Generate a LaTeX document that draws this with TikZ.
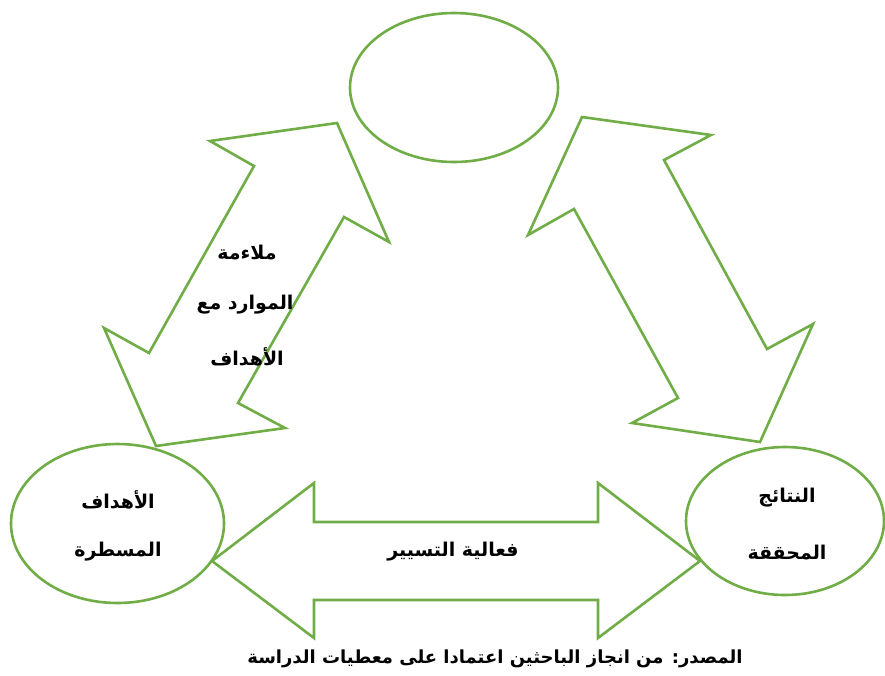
\documentclass[tikz,border=0pt]{standalone}
\usepackage{fontspec}
\TeXXeTstate=1
\newfontfamily\arabicfont[Script=Arabic]{DejaVu Sans}
\usetikzlibrary{shapes.geometric}
\definecolor{og}{RGB}{112,173,71}
\begin{document}
\begin{tikzpicture}[x=1pt,y=-1pt,
  blockarrow/.style={draw=og,line width=2.6pt,line join=miter,fill=white},
  oval/.style={ellipse,draw=og,line width=2.6pt,inner sep=0pt,fill=white},
  lbl/.style={font=\arabicfont\bfseries\fontsize{19}{22}\selectfont,inner sep=0pt},
  captiontext/.style={font=\arabicfont\bfseries\fontsize{18}{21}\selectfont,inner sep=0pt}]
\useasboundingbox (0,0) rectangle (885,675);
% ovals
\node[oval,minimum width=208pt,minimum height=149pt] (top) at (454,87.5) {};
\node[oval,minimum width=213pt,minimum height=159pt] (goals) at (117.5,523.5) {};
\node[oval,minimum width=198pt,minimum height=148pt] (results) at (785,521) {};
% left diagonal double arrow
\draw[blockarrow] (337,123) -- (389,242) -- (344,217) -- (238,403) -- (285,428)
  -- (156,446) -- (104,328) -- (149,353) -- (254,166) -- (210,141) -- cycle;
% right diagonal double arrow
\draw[blockarrow] (582,117) -- (711,135) -- (664,160) -- (767,349) -- (813,324)
  -- (760,442) -- (632,423) -- (678,398) -- (574,209) -- (528,235) -- cycle;
% bottom double arrow
\draw[blockarrow] (212,561) -- (314,483) -- (314,522) -- (598,522) -- (598,483)
  -- (700,561) -- (598,638) -- (598,600) -- (314,600) -- (314,638) -- cycle;
% texts
\node[lbl] (g1) at (118,500) {\beginR الأهداف\endR};
\node[lbl] (g2) at (118,552) {\beginR المسطرة\endR};
\node[lbl] (r1) at (787,498) {\beginR النتائج\endR};
\node[lbl] (r2) at (787,552) {\beginR المحققة\endR};
\node[lbl] (m) at (453,552) {\beginR فعالية التسيير\endR};
\node[lbl] (d1) at (247,252) {\beginR ملاءمة\endR};
\node[lbl] (d2) at (245,305) {\beginR الموارد مع\endR};
\node[lbl] (d3) at (247,357) {\beginR الأهداف\endR};
\node[captiontext] (src) at (495,659) {\beginR المصدر: من انجاز الباحثين اعتمادا على معطيات الدراسة\endR};
\end{tikzpicture}
\end{document}
